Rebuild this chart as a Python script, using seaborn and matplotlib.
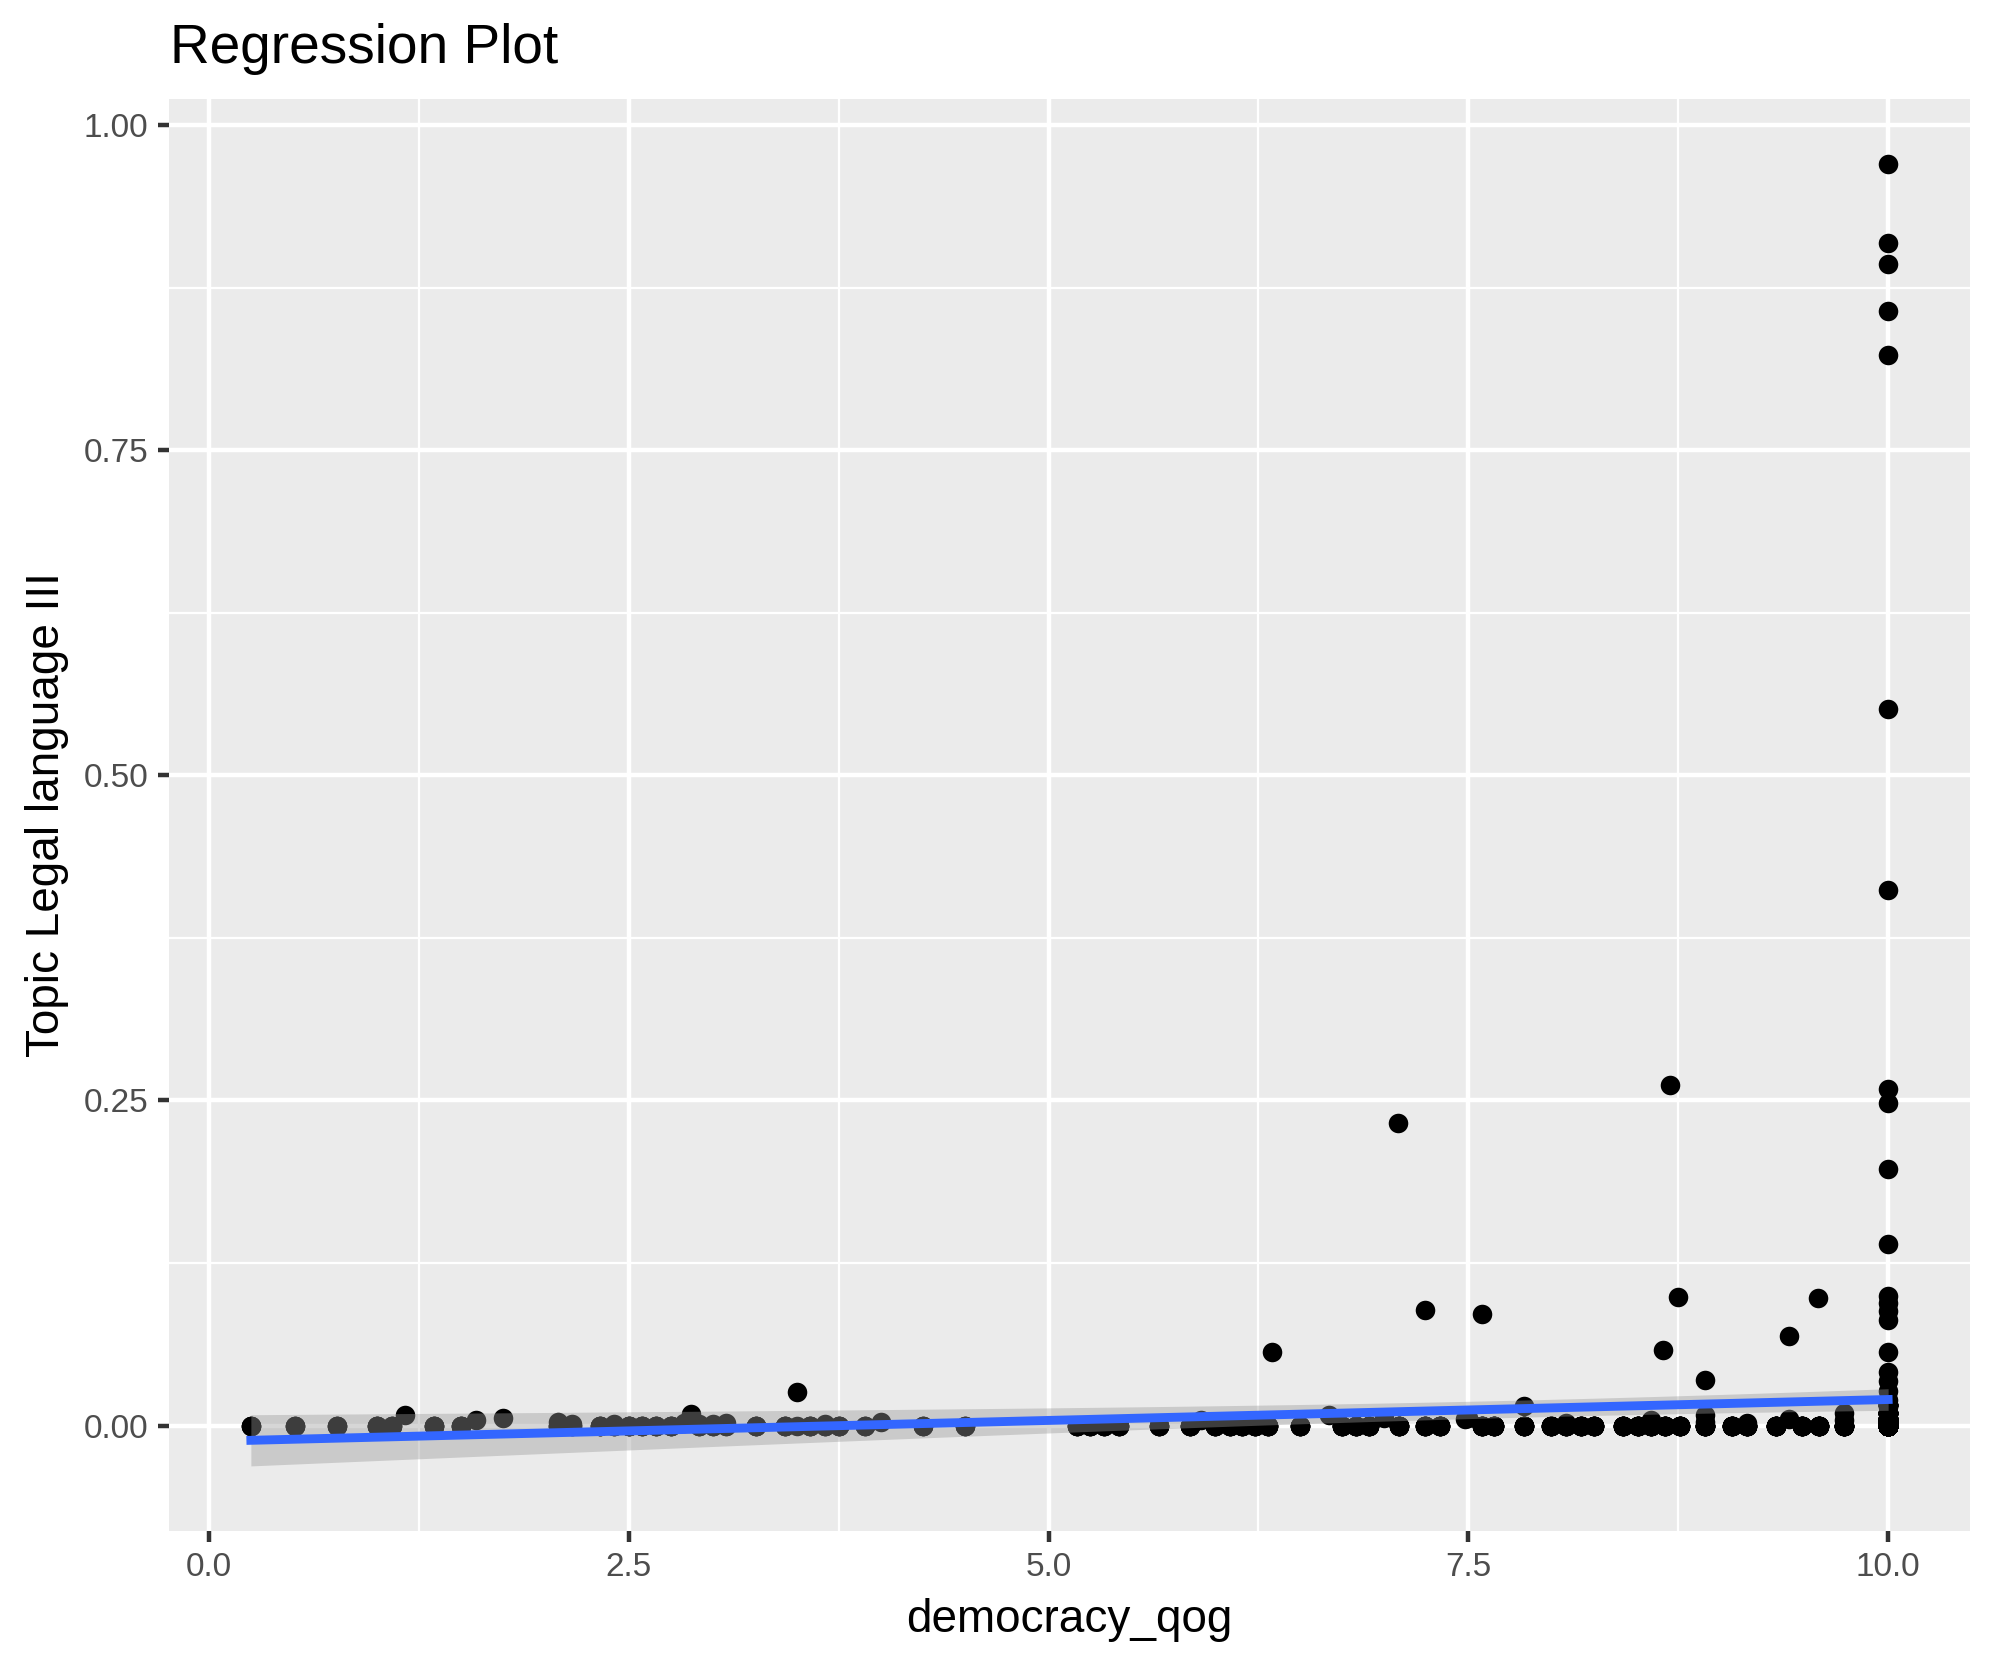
import numpy as np
import pandas as pd
import matplotlib
matplotlib.use("Agg")
import matplotlib.pyplot as plt
import seaborn as sns

# ---------------- data ----------------
# individually visible points
x_low = [0.25, 0.51, 0.76, 1.00, 1.09, 1.17, 1.34, 1.50, 1.59, 1.75,
         2.08, 2.16, 2.33, 2.41, 2.50, 2.58, 2.66, 2.75, 2.83, 2.87,
         2.92, 3.00, 3.08, 3.26, 3.43, 3.50, 3.50, 3.58, 3.67, 3.75,
         3.91, 4.00, 4.25, 4.50]
y_low = [0.000, 0.000, 0.000, 0.000, 0.000, 0.008, 0.000, 0.000, 0.004, 0.006,
         0.003, 0.001, 0.000, 0.001, 0.000, 0.000, 0.000, 0.000, 0.002, 0.009,
         0.001, 0.001, 0.002, 0.000, 0.000, 0.026, 0.000, 0.000, 0.001, 0.000,
         0.000, 0.003, 0.000, 0.000]

x_mid = [5.17, 5.25, 5.33, 5.42, 5.66, 5.84, 5.91, 5.99, 6.08, 6.15,
         6.23, 6.31, 6.33, 6.50, 6.67, 6.75, 6.83, 6.91, 7.00, 7.08,
         7.09, 7.24, 7.24, 7.33, 7.48, 7.50, 7.58, 7.58, 7.65, 7.83,
         7.83, 7.99, 8.08, 8.17, 8.25, 8.42, 8.51, 8.59, 8.66, 8.67,
         8.70, 8.75, 8.76, 8.91, 8.91, 8.91, 8.91, 9.07, 9.16, 9.33,
         9.41, 9.41, 9.49, 9.58, 9.59, 9.74, 9.74, 9.74]
y_mid = [0.000, 0.000, 0.000, 0.000, 0.000, 0.000, 0.004, 0.000, 0.000, 0.000,
         0.000, 0.000, 0.057, 0.000, 0.008, 0.000, 0.000, 0.000, 0.006, 0.233,
         0.000, 0.089, 0.000, 0.000, 0.005, 0.006, 0.086, 0.000, 0.000, 0.015,
         0.000, 0.000, 0.002, 0.000, 0.000, 0.000, 0.000, 0.004, 0.058, 0.000,
         0.262, 0.099, 0.000, 0.035, 0.008, 0.003, 0.000, 0.000, 0.002, 0.000,
         0.069, 0.005, 0.000, 0.098, 0.000, 0.010, 0.004, 0.000]

x_top = [10.0] * 27
y_top = [0.970, 0.909, 0.893, 0.857, 0.823, 0.551, 0.412, 0.259, 0.248, 0.197,
         0.140, 0.100, 0.094, 0.088, 0.081, 0.057, 0.041, 0.034, 0.027, 0.020,
         0.014, 0.009, 0.005, 0.003, 0.001, 0.000, 0.000]

# over-plotted observations hidden under the visible dots (x, how many, value)
stack_x = [0.25, 0.51, 0.76, 1.00, 1.09, 1.34, 1.50, 2.08, 2.16, 2.33,
           2.41, 2.50, 2.58, 2.66, 2.75, 2.92, 3.00, 3.08, 3.26, 3.43,
           3.58, 3.67, 3.75, 3.91, 4.25, 4.50,
           5.17, 5.25, 5.33, 5.42, 5.66, 5.84, 5.99, 6.08, 6.15, 6.23,
           6.31, 6.50, 6.75, 6.83, 6.91, 7.09, 7.24, 7.33, 7.58, 7.65,
           7.83, 7.99, 8.08, 8.17, 8.25, 8.42, 8.51, 8.59, 8.67, 8.76,
           8.91, 9.07, 9.16, 9.33, 9.49, 9.59, 9.74,
           10.0, 10.0, 10.0, 10.0, 10.0]
stack_n = [2, 2, 2, 3, 2, 3, 3, 3, 2, 3,
           3, 4, 3, 3, 3, 3, 3, 2, 3, 3,
           3, 3, 3, 2, 2, 2,
           3, 3, 3, 3, 3, 4, 4, 4, 4, 4,
           4, 4, 5, 5, 5, 5, 5, 5, 6, 6,
           6, 6, 6, 6, 6, 7, 7, 7, 7, 7,
           8, 8, 8, 8, 8, 8, 10,
           150, 40, 30, 20, 10]
stack_y = [0.0] * 63 + [0.000, 0.002, 0.005, 0.010, 0.016]

x_ticks = [0.0, 2.5, 5.0, 7.5, 10.0]
x_tick_labels = ["0.0", "2.5", "5.0", "7.5", "10.0"]
y_ticks = [0.00, 0.25, 0.50, 0.75, 1.00]
y_tick_labels = ["0.00", "0.25", "0.50", "0.75", "1.00"]

title = "Regression Plot"
x_name = "democracy_qog"
y_name = "Topic Legal language III"

xs = x_low + x_mid + x_top + list(np.repeat(stack_x, stack_n))
ys = y_low + y_mid + y_top + list(np.repeat(stack_y, stack_n))
df = pd.DataFrame({x_name: np.array(xs, dtype=float),
                   y_name: np.array(ys, dtype=float)})

# ---------------- style ----------------
plt.rcParams["font.family"] = ["Liberation Sans", "DejaVu Sans"]

W, H, DPI = 1990, 1665, 300
fig = plt.figure(figsize=(W / DPI, H / DPI), dpi=DPI)
ax = fig.add_axes([169 / W, 1 - 1531 / H, (1970 - 169) / W, (1531 - 99) / H])
ax.set_facecolor("#EBEBEB")
for s in ax.spines.values():
    s.set_visible(False)

X = df[x_name].values
Y = df[y_name].values
n = len(X)
xmin, xmax = X.min(), X.max()

# OLS fit + analytic 95% CI (as geom_smooth(method = "lm"))
b1, b0 = np.polyfit(X, Y, 1)
resid = Y - (b0 + b1 * X)
s2 = np.sum(resid ** 2) / (n - 2)
xg = np.linspace(xmin, xmax, 80)
se = np.sqrt(s2 * (1 / n + (xg - X.mean()) ** 2 / np.sum((X - X.mean()) ** 2)))
tval = 1.9637
yfit = b0 + b1 * xg
lo, hi = yfit - tval * se, yfit + tval * se

ymin_all = min(Y.min(), lo.min())
ymax_all = max(Y.max(), hi.max())
xr = xmax - xmin
yr = ymax_all - ymin_all
ax.set_xlim(xmin - 0.05 * xr, xmax + 0.05 * xr)
ax.set_ylim(ymin_all - 0.05 * yr, ymax_all + 0.05 * yr)

# ticks and grid
ax.set_xticks(x_ticks)
ax.set_xticklabels(x_tick_labels)
ax.set_yticks(y_ticks)
ax.set_yticklabels(y_tick_labels)
ax.set_xticks([1.25, 3.75, 6.25, 8.75], minor=True)
ax.set_yticks([0.125, 0.375, 0.625, 0.875], minor=True)
ax.grid(which="major", color="white", linewidth=1.07)
ax.grid(which="minor", color="white", linewidth=0.53)
ax.set_axisbelow(True)
ax.tick_params(which="minor", length=0)
ax.tick_params(which="major", length=2.75, width=1.07, color="#333333",
               labelcolor="#4D4D4D", labelsize=8.0)
ax.tick_params(axis="x", pad=2.4)
ax.tick_params(axis="y", pad=2.2)

# points
sns.scatterplot(data=df, x=x_name, y=y_name, ax=ax, color="black", s=22,
                linewidth=0, zorder=2)
# confidence band + fitted line
ax.fill_between(xg, lo, hi, color="#999999", alpha=0.4, linewidth=0, zorder=3)
sns.regplot(data=df, x=x_name, y=y_name, ax=ax, scatter=False, ci=None,
            truncate=True, color="#3366FF", line_kws={"linewidth": 2.13, "zorder": 4})

ax.set_xlabel(x_name, fontsize=11, color="black", labelpad=3.5)
ax.set_ylabel(y_name, fontsize=11, color="black", labelpad=3.5)

fig.text(170 / W, 1 - 63 / H, title, fontsize=13.2, color="black",
         ha="left", va="baseline")

fig.savefig("out.png", dpi=DPI)
